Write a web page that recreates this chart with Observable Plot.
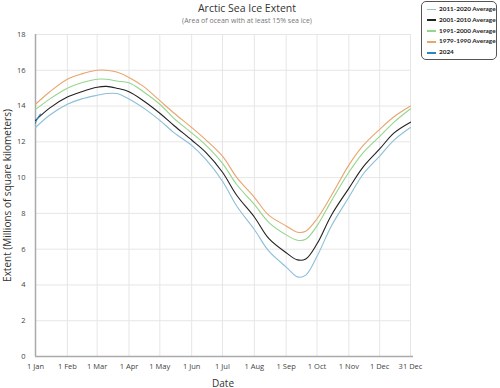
<!DOCTYPE html>
<html><head><meta charset="utf-8">
<script src="https://cdn.jsdelivr.net/npm/d3@7"></script>
<script src="https://cdn.jsdelivr.net/npm/@observablehq/plot@0.6"></script>
<style>
body{margin:0;background:#fff;font-family:"Open Sans",sans-serif;}
#wrap{position:relative;width:500px;height:388px;}
#title{position:absolute;left:0;width:494px;top:1px;text-align:center;font-size:10.5px;color:#333;}
#sub{position:absolute;left:0;width:494px;top:16px;text-align:center;font-size:7px;color:#777;}
#legend{position:absolute;left:421px;top:1px;width:76px;height:59px;border:1px solid #555;border-radius:5px;box-sizing:border-box;font-family:Lato,sans-serif;font-size:6.4px;font-weight:700;color:#222;}
.li{position:absolute;left:5px;height:10px;line-height:10px;white-space:nowrap;}
.sw{display:inline-block;width:9px;height:1.5px;vertical-align:middle;margin-right:3px;}
</style></head>
<body><div id="wrap"><div id="title">Arctic Sea Ice Extent</div><div id="sub">(Area of ocean with at least 15% sea ice)</div><div id="legend"></div></div>
<script>
const days = ["01-01","01-15","02-01","02-15","03-01","03-10","03-20","04-01","04-15","05-01","05-15","06-01","06-15","07-01","07-15","08-01","08-15","09-01","09-12","09-20","10-01","10-15","11-01","11-15","12-01","12-15","12-31"];
const avg1979_1990 = [14.1,14.8,15.5,15.8,16.0,16.0,15.9,15.6,15.1,14.3,13.6,12.8,12.1,11.2,10.0,8.9,7.9,7.3,6.95,7.0,7.7,9.0,10.7,11.8,12.7,13.4,14.0];
const avg1991_2000 = [13.8,14.4,15.0,15.3,15.5,15.5,15.4,15.3,14.8,14.1,13.3,12.5,11.8,10.8,9.6,8.5,7.5,6.8,6.5,6.55,7.3,8.7,10.3,11.4,12.3,13.1,13.85];
const avg2001_2010 = [13.2,13.9,14.5,14.8,15.05,15.1,15.0,14.8,14.3,13.6,12.9,12.1,11.4,10.3,9.0,7.8,6.6,5.8,5.4,5.45,6.3,7.9,9.4,10.6,11.6,12.5,13.1];
const avg2011_2020 = [12.8,13.5,14.1,14.4,14.6,14.7,14.7,14.4,13.9,13.2,12.5,11.8,11.0,9.8,8.4,7.1,5.9,5.0,4.45,4.55,5.6,7.3,8.9,10.2,11.2,12.1,12.8];
const days2024 = ["01-01","01-02","01-03","01-04","01-05","01-06"];
const ext2024 = [13.05,13.2,13.3,13.4,13.5,13.55];
const seriesNames = ["2011-2020 Average","2001-2010 Average","1991-2000 Average","1979-1990 Average","2024"];
const seriesColors = ["#8cbfd8","#222222","#93d68c","#e9a56c","#2e83c2"];
const tickDays = ["01-01","02-01","03-01","04-01","05-01","06-01","07-01","08-01","09-01","10-01","11-01","12-01","12-31"];
const tickLabels = ["1 Jan","1 Feb","1 Mar","1 Apr","1 May","1 Jun","1 Jul","1 Aug","1 Sep","1 Oct","1 Nov","1 Dec","31 Dec"];

const toDate = s => new Date("2024-" + s + "T00:00:00Z");
const rows = [];
const addSeries = (name, ds, vs) => ds.forEach((d,i)=>rows.push({series:name,date:toDate(d),value:vs[i]}));
addSeries(seriesNames[3], days, avg1979_1990);
addSeries(seriesNames[2], days, avg1991_2000);
addSeries(seriesNames[1], days, avg2001_2010);
addSeries(seriesNames[0], days, avg2011_2020);
addSeries(seriesNames[4], days2024, ext2024);
const tickDates = tickDays.map(toDate);
const labelOf = new Map(tickDates.map((d,i)=>[+d,tickLabels[i]]));

const chart = Plot.plot({
  width:500, height:388,
  marginLeft:35, marginRight:90, marginTop:34, marginBottom:32,
  style:{fontFamily:"Open Sans, sans-serif", fontSize:"7.5px", color:"#444", background:"transparent"},
  x:{type:"utc", domain:[toDate("01-01"), toDate("12-31")], ticks:tickDates, tickFormat:d=>labelOf.get(+d), tickSize:0, tickPadding:7, label:"Date", labelAnchor:"center", labelArrow:"none", labelOffset:30},
  y:{domain:[0,18], ticks:d3.range(0,19,2), tickSize:0, tickPadding:10, label:"Extent (Millions of square kilometers)", labelAnchor:"center", labelArrow:"none", labelOffset:32},
  color:{domain:seriesNames, range:seriesColors},
  marks:[
    Plot.gridX(tickDates,{stroke:"#e6e6e6", strokeOpacity:1}),
    Plot.gridY(d3.range(2,19,2),{stroke:"#e6e6e6", strokeOpacity:1}),
    Plot.ruleX([toDate("01-01")],{stroke:"#aaa", strokeWidth:1.5}),
    Plot.ruleY([0],{stroke:"#aaa", strokeWidth:1.5, insetRight:-3}),
    Plot.lineY(rows,{x:"date", y:"value", stroke:"series", z:"series", strokeWidth:1.1, curve:"catmull-rom"})
  ]
});
chart.querySelectorAll("g[aria-label='x-axis label'] text, g[aria-label='y-axis label'] text").forEach(t=>{t.style.fontSize="10px";t.style.fill="#333";});
document.getElementById("wrap").prepend(chart);
chart.style.position="absolute"; chart.style.left="0"; chart.style.top="0";

const leg = document.getElementById("legend");
seriesNames.forEach((n,i)=>{
  const d=document.createElement("div"); d.className="li"; d.style.top=(2+i*10.8)+"px";
  const s=document.createElement("span"); s.className="sw"; s.style.background=i===0?"#8ccbc4":seriesColors[i]; if(i===4) s.style.height="2px";
  d.appendChild(s); d.appendChild(document.createTextNode(n)); leg.appendChild(d);
});
</script></body></html>
